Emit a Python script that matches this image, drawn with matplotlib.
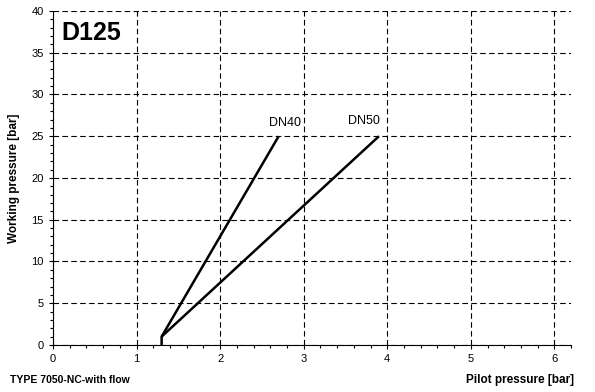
import matplotlib
matplotlib.use("Agg")
import matplotlib.pyplot as plt
from matplotlib.ticker import MultipleLocator

# Datos
dn40_x = [1.3, 1.3, 2.7]
dn40_y = [0, 1, 25]
dn50_x = [1.3, 3.9]
dn50_y = [1, 25]
etiquetas = ["DN40", "DN50"]

plt.rcParams['font.family'] = ['Liberation Sans', 'DejaVu Sans']

fig = plt.figure(figsize=(5.95, 3.92), dpi=100)
ax = fig.add_axes([0.089, 0.12, 0.871, 0.852])

ax.plot(dn40_x, dn40_y, color='black', lw=1.8, solid_capstyle='butt')
ax.plot(dn50_x, dn50_y, color='black', lw=1.8, solid_capstyle='butt')

ax.text(2.78, 25.9, etiquetas[0], fontsize=9, ha='center', va='bottom')
ax.text(3.72, 26.1, etiquetas[1], fontsize=9, ha='center', va='bottom')

ax.set_xlim(0, 6.2)
ax.set_ylim(0, 40)
ax.xaxis.set_major_locator(MultipleLocator(1))
ax.xaxis.set_minor_locator(MultipleLocator(0.2))
ax.yaxis.set_major_locator(MultipleLocator(5))
ax.yaxis.set_minor_locator(MultipleLocator(1))

ax.grid(True, which='major', color='black', linestyle=(0, (5, 3)), lw=0.8)
ax.spines['top'].set_visible(False)
ax.spines['right'].set_visible(False)
ax.tick_params(which='both', direction='out', labelsize=8, width=0.8)
ax.tick_params(which='major', length=3)
ax.tick_params(which='minor', length=2)

ax.set_ylabel('Working pressure [bar]', fontsize=8.5, fontweight='bold', labelpad=8)
fig.text(0.965, 0.03, 'Pilot pressure [bar]', fontsize=8.5, fontweight='bold', ha='right', va='center')
fig.text(0.017, 0.03, 'TYPE 7050-NC-with flow', fontsize=7.5, fontweight='bold', ha='left', va='center')

ax.text(0.1, 37.4, 'D125', fontsize=18, fontweight='bold', ha='left', va='center',
        bbox=dict(facecolor='white', edgecolor='none', pad=2))

fig.savefig('out.png', dpi=100)
